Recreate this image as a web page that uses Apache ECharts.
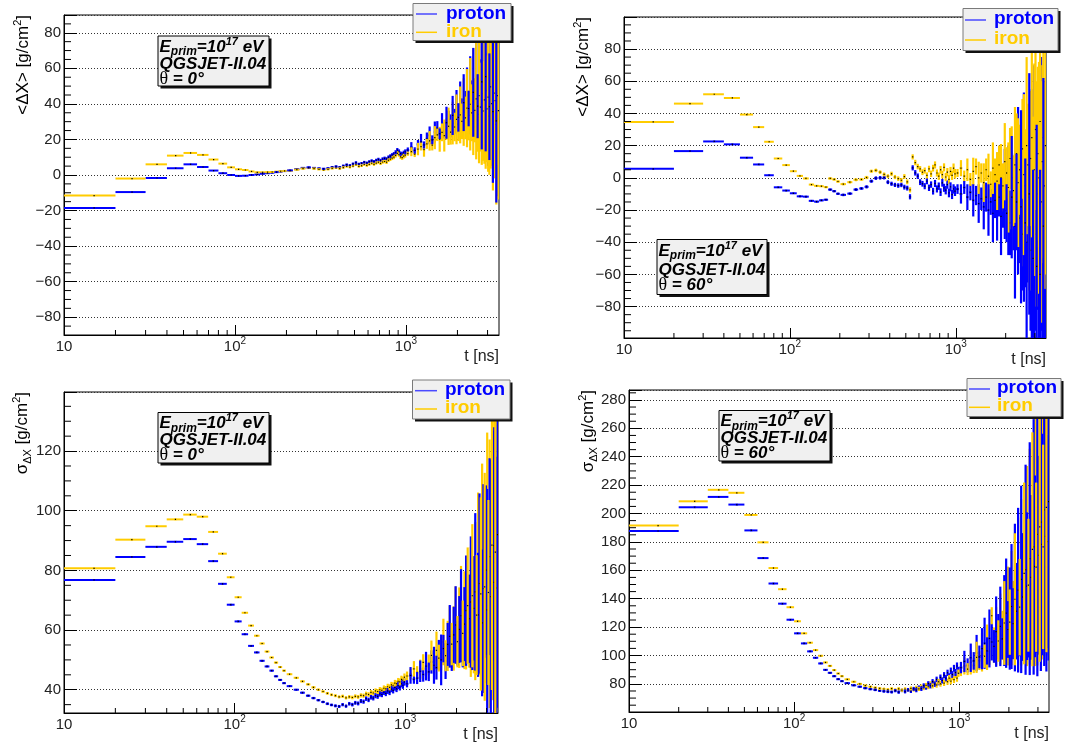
<!DOCTYPE html>
<html><head><meta charset="utf-8">
<script src="https://cdn.jsdelivr.net/npm/echarts@6/dist/echarts.min.js"></script>
<style>html,body{margin:0;padding:0;background:#fff}#c{width:1081px;height:747px}</style>
</head><body><div id="c"></div>
<script>
// ---------- sample times (bin centres, ns) ----------
const T_LOW = [15,25,35,45,55,65,75,85,95,105,115,125,135,145,155,165,175,185,195];
const T_MID = [210,230,250,270,290,310,330,350,370,390,410,430,450,470,490,510,530,550,570,590,610,630,650,670,690,710,730,750,770,790,810,830,850,870,890,910,930,950,970,990];
const T_HIGH = [1025,1075,1125,1175,1225,1275,1325,1375,1425,1475,1525,1575,1625,1675,1725,1775,1825,1875,1925,1975,2025,2075,2125,2175,2225,2275,2325,2375,2425,2475,2525,2575,2625,2675,2725,2775,2825,2875,2925,2975,3025,3075,3125,3175,3225,3275,3325,3375,3425,3475];

// ---------- tick values ----------
const X_MINOR = [20,30,40,50,60,70,80,90,200,300,400,500,600,700,800,900,2000,3000];
const Y_MINOR_TL = [-85,-75,-70,-65,-55,-50,-45,-35,-30,-25,-15,-10,-5,5,10,15,25,30,35,45,50,55,65,70,75,85];
const Y_MINOR_TR = [-95,-90,-85,-75,-70,-65,-55,-50,-45,-35,-30,-25,-15,-10,-5,5,10,15,25,30,35,45,50,55,65,70,75,85,90,95];
const Y_MINOR_BL = [35,45,50,55,65,70,75,85,90,95,105,110,115,125,130,135];
const Y_MINOR_BR = [65,70,75,85,90,95,105,110,115,125,130,135,145,150,155,165,170,175,185,190,195,205,210,215,225,230,235,245,250,255,265,270,275,285];

// ---------- <dX>, theta = 0 ----------
const TL_P_LOW = [-18.5,-9.6,-1.7,3.8,6.0,4.5,2.5,1.0,0.0,-0.5,-0.4,0.0,0.3,0.7,1.0,1.3,1.6,1.9,2.2];
const TL_P_MID = [2.6,3.3,4.0,4.3,4.0,3.7,3.5,3.8,4.4,4.8,4.4,5.2,5.8,5.4,6.3,7.0,6.2,6.6,7.2,6.8,7.5,8.0,7.6,8.3,8.8,8.2,9.0,9.4,9.0,10.0,10.6,11.2,11.8,12.8,14.0,13.2,12.0,11.6,12.4,13.0];
const TL_P_HIGH = [14.0,15.5,13.8,17.2,18.6,16.9,20.4,22.3,19.8,24.1,26.3,23.2,27.8,25.1,29.4,31.2,27.6,33.5,30.2,35.8,32.4,38.6,34.1,40.7,36.3,42.5,37.4,44.8,39.2,46.5,41.3,48.2,38.7,50.6,43.1,52.4,40.2,47.8,55.3,42.6,50.1,38.4,58.2,45.3,35.6,55.4,48.2,30.5,52.3,40.1];
const TL_P_HIGH_E = [1.5,3,1.8,2.5,4.5,2,3.5,5,2.5,6,4,3,7,4.5,9,5,6.5,11,7,12,8,14,9,16,11,18,10,22,14,25,12,28,18,32,22,38,20,35,42,26,45,30,48,36,40,50,32,46,38,52];
const TL_I_LOW = [-11.6,-2.0,6.0,10.9,12.4,11.3,8.7,6.4,4.3,3.2,2.8,2.0,1.5,1.5,1.6,1.7,1.9,2.1,2.3];
const TL_I_MID = [2.4,3.0,3.6,3.9,3.6,3.2,2.9,3.2,3.7,4.0,3.6,4.2,4.8,4.4,5.0,5.8,4.9,5.2,5.9,5.4,6.0,6.6,6.0,6.7,7.2,6.5,7.3,7.6,7.2,8.3,8.9,9.5,10.0,11.0,12.2,11.5,10.2,9.8,10.6,11.2];
const TL_I_HIGH = [12.0,13.1,11.7,14.6,16.0,14.3,17.5,19.2,16.8,21.0,22.6,20.1,24.0,22.2,25.8,27.4,24.1,29.2,27.0,31.3,28.6,33.8,30.2,35.4,32.1,37.6,33.5,39.8,35.0,41.2,36.4,42.8,34.1,44.6,38.2,45.7,36.0,42.3,47.5,37.2,43.8,33.1,49.6,40.2,32.3,46.1,41.8,28.4,44.7,36.2];
const TL_I_HIGH_E = [1.2,2.5,1.6,3.5,2.2,4,2.8,5.5,3,6.5,3.5,7,5,9,6,10.5,7,12,8,14,9.5,16,10,19,12,22,14,26,16,30,18,34,21,38,25,40,28,36,44,30,42,33,46,35,41,48,34,45,39,50];
const TL_E_LOWMID = [0.3,0.3,0.3,0.3,0.3,0.3,0.3,0.3,0.3,0.3,0.3,0.3,0.3,0.3,0.3,0.35,0.35,0.35,0.35,
  0.4,0.4,0.4,0.45,0.45,0.5,0.5,0.5,0.55,0.55,0.6,0.6,0.6,0.65,0.65,0.7,0.7,0.7,0.75,0.75,0.8,0.8,0.85,0.85,0.9,0.9,0.95,0.95,1.0,1.0,1.05,1.1,1.1,1.15,1.2,1.2,1.25,1.3,1.3,1.4];

// ---------- <dX>, theta = 60 ----------
const TR_P_LOW = [5.6,16.6,22.6,20.8,12.5,8.3,1.6,-5.9,-7.9,-9.6,-11.5,-11.7,-14.3,-14.8,-14.0,-13.6,-7.3,-8.3,-9.9];
const TR_P_MID = [-10.6,-9.8,-7.3,-6.6,-5.6,-2.1,-0.2,0.0,0.2,-2.7,-3.7,-4.4,-4.8,-4.4,-5.8,-6.4,-11.8,6.2,3.1,1.0,-2.7,-3.7,-5.2,-2.1,-6.2,-4.2,-8.3,-3.5,-6.9,-5.2,-8.9,-3.1,-6.2,-7.7,-4.2,-9.4,-5.6,-10.4,-6.9,-8.3];
const TR_P_HIGH = [-7,-10,-6,-12,-9,-14,-11,-16,-13,-18,-12,-20,-15,-22,-14,-19,-12,-24,-16,-10,-22,-14,-28,-12,-20,-30,-15,-8,-25,-18,-35,-12,-28,-40,-20,-10,-45,-25,-50,-15,-35,-55,-20,-40,-60,-10,-45,-30,-50,-20];
const TR_P_HIGH_E = [3,6,4,8,5,10,6,12,7,14,9,16,8,18,11,20,12,24,15,28,18,34,20,38,25,45,30,52,28,60,35,65,40,70,45,75,50,80,55,85,60,88,62,90,65,85,70,92,75,80];
const TR_I_LOW = [34.7,46.1,51.9,49.6,39.3,31.5,22.4,12.0,7.9,4.1,1.2,-0.4,-4.2,-5.0,-5.2,-5.8,-0.4,-1.0,-2.3];
const TR_I_MID = [-3.9,-2.7,-1.2,-1.0,0.2,4.1,4.6,3.5,2.1,1.0,2.5,0.5,-0.5,-1.5,0.8,-2.5,-7.5,13.0,9.5,7.0,5.5,3.5,4.5,1.5,5.5,2.5,6.0,8.0,3.0,1.0,5.0,2.0,6.5,0.5,3.5,-1.0,4.0,1.5,6.0,2.5];
const TR_I_HIGH = [3,6,1,5,-1,4,7,0,3,-3,5,1,-4,6,2,-2,8,0,-5,10,3,-6,12,0,-8,8,15,-3,5,-10,18,2,-5,20,8,-12,12,25,-8,5,30,-10,15,0,35,-15,10,25,-5,20];
const TR_I_HIGH_E = [2.5,5,3.5,7,4,8.5,5,10,6,12,7,14,8,16,10,18,12,21,14,24,16,28,19,32,22,36,25,40,28,45,31,50,35,55,38,58,42,62,46,66,50,70,54,72,58,75,60,78,64,80];
const TR_E_LOWMID = [0.5,0.5,0.5,0.5,0.5,0.5,0.5,0.5,0.5,0.5,0.6,0.6,0.6,0.6,0.6,0.6,0.7,0.7,0.7,
  0.8,0.8,0.9,0.9,1.0,1.0,1.1,1.1,1.2,1.2,1.3,1.3,1.4,1.4,1.5,1.5,1.6,1.6,1.7,1.7,1.8,1.8,1.9,1.9,2.0,2.0,2.1,2.2,2.2,2.3,2.4,2.4,2.5,2.6,2.6,2.7,2.8,2.8,2.9,3.0];

// ---------- sigma dX, theta = 0 ----------
const BL_P_LOW = [76.8,84.5,87.9,89.6,90.5,88.8,83.1,75.5,68.5,62.9,58.6,54.7,52.5,49.7,47.8,46.4,44.5,43.3,42.2];
const BL_P_MID = [41.2,40.0,39.0,38.0,37.2,36.5,35.9,35.3,34.9,34.6,34.4,35.0,34.5,35.3,35.0,35.6,35.4,36.2,36.0,37.0,36.6,37.5,37.2,38.0,37.8,38.6,38.4,39.2,38.8,39.6,39.2,40.2,39.8,40.8,40.3,41.4,40.9,42.0,41.5,42.6];
const BL_P_HIGH = [42.0,44.8,43.5,43.9,46.2,45.1,47.9,46.0,49.3,48.2,47.4,51.6,50.0,53.8,49.6,55.2,57.9,53.1,58.4,61.7,55.6,60.2,64.8,57.3,62.0,66.5,59.1,63.8,69.4,60.2,67.3,72.8,63.5,65.1,75.6,68.2,62.4,73.9,70.5,80.1,66.8,77.4,84.6,71.2,69.5,88.3,76.0,82.7,74.1,92.0];
const BL_P_HIGH_E = [1.2,2.8,1.5,2.0,3.6,2.4,4.8,3.1,3.9,6.2,4.0,5.1,8.5,4.6,6.0,7.2,10.5,6.8,9.4,13.0,7.5,11.2,15.6,9.8,12.4,18.5,10.2,14.8,22.0,13.6,17.5,26.4,15.0,20.8,30.2,16.4,24.6,35.0,19.8,28.4,40.5,22.2,33.0,46.0,26.8,38.5,52.0,30.4,44.0,58.0];
const BL_I_LOW = [80.7,90.3,94.8,97.1,98.7,98.0,92.9,85.6,77.7,71.0,65.8,61.5,58.1,55.5,52.8,50.8,49.1,47.6,46.4];
const BL_I_MID = [45.2,44.0,42.8,41.8,40.8,40.0,39.4,38.8,38.3,38.0,37.6,37.8,37.3,37.6,37.4,37.8,37.6,38.1,38.0,38.6,38.4,39.1,38.9,39.6,39.4,40.0,39.8,40.5,40.3,41.0,40.8,41.6,41.4,42.2,42.0,42.8,42.6,43.5,43.2,44.2];
const BL_I_HIGH = [44.6,45.3,47.0,45.8,46.9,49.2,47.7,48.4,51.5,49.0,53.2,50.6,52.1,56.0,51.4,54.7,58.5,55.3,57.2,62.4,56.1,60.8,65.7,58.9,63.3,59.4,68.2,61.6,66.1,71.5,62.8,69.7,65.0,76.3,67.4,72.1,79.8,66.2,74.5,70.8,83.7,72.6,78.9,75.2,88.5,73.0,81.6,86.1,76.8,90.2];
const BL_I_HIGH_E = [1.5,1.8,2.6,2.1,3.2,2.7,4.1,3.4,5.0,3.8,6.3,4.5,5.6,7.8,5.2,8.4,9.6,7.1,10.8,12.2,8.6,13.5,15.8,11.0,16.4,12.6,19.5,14.2,21.8,24.0,17.3,26.5,20.1,29.8,22.6,32.4,36.0,25.4,38.2,28.6,42.5,31.0,45.0,34.2,48.6,36.5,50.2,54.0,40.4,56.0];
const BL_E_LOWMID = [0.3,0.3,0.3,0.3,0.3,0.3,0.3,0.3,0.3,0.3,0.3,0.3,0.3,0.3,0.3,0.3,0.3,0.3,0.3,
  0.3,0.3,0.35,0.35,0.4,0.4,0.4,0.45,0.45,0.5,0.5,0.55,0.55,0.6,0.6,0.65,0.65,0.7,0.7,0.75,0.75,0.8,0.8,0.85,0.85,0.9,0.9,0.95,0.95,1.0,1.0,1.05,1.05,1.1,1.1,1.15,1.15,1.2,1.2,1.25];

// ---------- sigma dX, theta = 60 ----------
const BR_P_LOW = [187.7,204.4,211.7,206.3,188.1,168.6,150.7,136.5,125.2,115.6,108.5,102.9,98.4,94.4,89.9,87.8,85.4,83.3,81.9];
const BR_P_MID = [80.5,79.0,78.0,77.0,76.3,75.8,75.2,74.8,74.5,74.3,75.2,74.2,75.4,74.6,75.8,75.0,76.5,75.6,77.4,76.6,78.8,77.6,80.2,78.6,81.6,79.8,83.2,81.0,84.6,82.4,86.2,84.0,87.8,85.2,89.2,86.6,91.0,88.0,92.6,89.4];
const BR_P_HIGH = [91.5,95.8,93.0,98.4,96.2,101.7,99.0,104.8,108.6,103.2,112.0,109.5,106.4,116.8,113.2,120.5,111.7,124.6,129.8,118.3,126.0,134.5,122.4,140.8,131.2,146.0,127.5,153.6,141.2,136.0,160.4,148.8,142.6,168.2,155.0,150.3,176.5,162.8,158.0,185.3,170.6,164.4,194.0,178.2,172.5,202.6,184.0,196.8,180.2,208.4];
const BR_P_HIGH_E = [4,7.5,5,10,6.2,12.8,8,14.5,18,9.6,20.4,13,11.5,24.8,16,28,14.5,32,38.5,20,36,44,25,52,34,58,28,66,45,38,74,52,44,82,58,50,90,64,56,100,70,62,105,78,68,110,82,108,75,112];
const BR_I_LOW = [191.5,208.6,216.7,214.6,199.0,179.7,161.6,146.7,134.0,124.1,115.6,109.0,103.8,99.8,95.1,92.7,89.7,87.3,85.4];
const BR_I_MID = [83.2,81.5,80.0,78.8,78.0,77.3,76.8,76.4,76.0,76.6,75.8,76.5,75.6,76.3,75.8,76.8,76.0,77.2,76.5,78.0,77.2,79.0,78.0,80.0,78.6,80.5,79.2,81.5,80.0,82.5,80.6,83.2,81.5,84.0,82.0,85.0,83.0,86.5,84.0,87.5];
const BR_I_HIGH = [89.0,92.6,90.4,95.1,93.0,98.7,96.4,102.2,99.5,105.8,103.0,128.0,107.4,113.5,110.2,118.6,114.3,122.9,119.2,127.8,123.5,133.4,126.1,139.6,131.8,145.2,134.0,151.5,139.4,157.8,144.2,163.0,149.5,169.6,153.1,174.8,158.6,180.5,162.2,185.0,167.4,190.6,171.3,195.2,176.5,199.8,181.0,204.3,185.6,196.0];
const BR_I_HIGH_E = [3.5,6,4.2,8.5,5.4,11,6.6,13.5,8.2,16,9.5,6,12.4,20.5,14.6,25,17.2,29.5,20,34.8,23,40.2,26.4,46.5,30.2,52,34,58.6,38.4,64,42,70.5,46.8,76,50.5,82.4,55,88,59.6,92,64,95,68.2,98,72,100,76,102,80,96];
const BR_E_LOWMID = [0.6,0.6,0.6,0.6,0.6,0.6,0.6,0.6,0.6,0.6,0.6,0.6,0.6,0.6,0.6,0.6,0.6,0.6,0.6,
  0.6,0.7,0.7,0.8,0.8,0.9,0.9,1.0,1.0,1.1,1.1,1.2,1.2,1.3,1.3,1.4,1.4,1.5,1.5,1.6,1.6,1.7,1.7,1.8,1.8,1.9,1.9,2.0,2.0,2.1,2.1,2.2,2.2,2.3,2.3,2.4,2.4,2.5,2.5,2.6];

const BLUE = '#0000ff', GOLD = '#ffcc00';
const FONT = 'Liberation Sans';

// half widths (ns) of the drawn dash in each sampling segment
const HALF = [5, 8, 20];
function buildPoints(low, mid, high, errLowMid, errHigh) {
  const pts = [];
  T_LOW.forEach((t, i) => pts.push([t, low[i], errLowMid[i], HALF[0]]));
  T_MID.forEach((t, i) => pts.push([t, mid[i], errLowMid[T_LOW.length + i], HALF[1]]));
  T_HIGH.forEach((t, i) => pts.push([t, high[i], errHigh[i], HALF[2]]));
  return pts;
}

// layering: the "front" species sits above, but every 3rd bin of the back species is lifted
function binRenderer(color, front) {
  return function (params, api) {
    const t = api.value(0), y = api.value(1), e = api.value(2), h = api.value(3);
    const a = api.coord([t - h, y]), b = api.coord([t + h, y]);
    const top = api.coord([t, y + e]), bot = api.coord([t, y - e]);
    const c = api.coord([t, y]);
    const z2 = front ? 2 : (params.dataIndex % 3 === 1 ? 3 : 1);
    return { type: 'group', children: [
      { type: 'line', z2: z2, shape: { x1: a[0], y1: a[1], x2: b[0], y2: b[1] }, style: { stroke: color, lineWidth: 2 } },
      { type: 'line', z2: z2, shape: { x1: c[0], y1: top[1], x2: c[0], y2: bot[1] }, style: { stroke: color, lineWidth: 2.2 } },
      { type: 'rect', z2: z2 + 0.5, shape: { x: c[0] - 0.6, y: c[1] - 0.6, width: 1.2, height: 1.2 }, style: { fill: '#000' } }
    ]};
  };
}

function minorRenderer(params, api) {
  const cs = params.coordSys;
  const kind = api.value(2);
  if (kind === 0) {
    const px = api.coord([api.value(0), api.value(1)])[0];
    const yb = cs.y + cs.height;
    return { type: 'line', shape: { x1: px, y1: yb, x2: px, y2: yb - 5 }, style: { stroke: '#000', lineWidth: 1 } };
  }
  const py = api.coord([api.value(0), api.value(1)])[1];
  return { type: 'line', shape: { x1: cs.x, y1: py, x2: cs.x + 7, y2: py }, style: { stroke: '#000', lineWidth: 1 } };
}

const panels = [
  { grid: { left: 64, top: 15, width: 435, height: 320 }, ymin: -90, ymax: 90, split: 9, yMinor: Y_MINOR_TL, protonFront: false,
    p: buildPoints(TL_P_LOW, TL_P_MID, TL_P_HIGH, TL_E_LOWMID, TL_P_HIGH_E),
    i: buildPoints(TL_I_LOW, TL_I_MID, TL_I_HIGH, TL_E_LOWMID, TL_I_HIGH_E) },
  { grid: { left: 624, top: 17, width: 422, height: 321 }, ymin: -99.5, ymax: 99.9, split: 10, yMinor: Y_MINOR_TR, protonFront: false,
    p: buildPoints(TR_P_LOW, TR_P_MID, TR_P_HIGH, TR_E_LOWMID, TR_P_HIGH_E),
    i: buildPoints(TR_I_LOW, TR_I_MID, TR_I_HIGH, TR_E_LOWMID, TR_I_HIGH_E) },
  { grid: { left: 64, top: 392, width: 434, height: 321 }, ymin: 32.2, ymax: 139.8, split: 5, yMinor: Y_MINOR_BL, protonFront: true,
    p: buildPoints(BL_P_LOW, BL_P_MID, BL_P_HIGH, BL_E_LOWMID, BL_P_HIGH_E),
    i: buildPoints(BL_I_LOW, BL_I_MID, BL_I_HIGH, BL_E_LOWMID, BL_I_HIGH_E) },
  { grid: { left: 629, top: 390, width: 420, height: 322 }, ymin: 60.2, ymax: 287, split: 11, yMinor: Y_MINOR_BR, protonFront: true,
    p: buildPoints(BR_P_LOW, BR_P_MID, BR_P_HIGH, BR_E_LOWMID, BR_P_HIGH_E),
    i: buildPoints(BR_I_LOW, BR_I_MID, BR_I_HIGH, BR_E_LOWMID, BR_I_HIGH_E) }
];

function xFmt(v) {
  const p = Math.log10(v), r = Math.round(p);
  if (Math.abs(p - r) > 1e-6) return '';
  return r === 1 ? '10' : '10{s|' + r + '}';
}
function yFmt(v) {
  const r = Math.round(v);
  if (Math.abs(v - r) > 1e-6 || r % 20 !== 0) return '';
  return r < 0 ? '\u2212' + (-r) : String(r);
}

const grids = [], xAxes = [], yAxes = [], series = [];
panels.forEach((pn, gi) => {
  grids.push(Object.assign({ show: true, borderColor: '#000', borderWidth: 1, backgroundColor: '#fff', containLabel: false }, pn.grid));
  xAxes.push({ type: 'log', logBase: 10, gridIndex: gi, min: 10, max: 3500, splitNumber: 3,
    axisLine: { show: true, onZero: false, lineStyle: { color: '#000', width: 1 } },
    axisTick: { show: true, inside: true, length: 10, lineStyle: { color: '#000' } },
    splitLine: { show: false }, minorTick: { show: false },
    axisLabel: { formatter: xFmt, margin: 1, color: '#222', fontSize: 15, fontFamily: FONT, lineHeight: 22,
      showMaxLabel: false, rich: { s: { fontSize: 10, lineHeight: 10, verticalAlign: 'top', fontFamily: FONT, color: '#222' } } } });
  yAxes.push({ type: 'value', gridIndex: gi, min: pn.ymin, max: pn.ymax, splitNumber: pn.split,
    axisLine: { show: true, onZero: false, lineStyle: { color: '#000', width: 1 } },
    axisTick: { show: true, inside: true, length: 13, lineStyle: { color: '#000' } },
    splitLine: { show: true, lineStyle: { color: '#333', width: 1, type: [1, 2] } },
    axisLabel: { formatter: yFmt, margin: 3, color: '#222', fontSize: 15, fontFamily: FONT } });
  const minorData = X_MINOR.map(v => [v, pn.ymin, 0]).concat(pn.yMinor.map(v => [10, v, 1]));
  series.push({ type: 'custom', xAxisIndex: gi, yAxisIndex: gi, renderItem: minorRenderer, data: minorData,
    encode: { x: 0, y: 1 }, silent: true, z: 5 });
  series.push({ type: 'custom', name: 'proton', xAxisIndex: gi, yAxisIndex: gi, renderItem: binRenderer(BLUE, pn.protonFront),
    data: pn.p, encode: { x: 0, y: 1 }, clip: true, silent: true, z: 3 });
  series.push({ type: 'custom', name: 'iron', xAxisIndex: gi, yAxisIndex: gi, renderItem: binRenderer(GOLD, !pn.protonFront),
    data: pn.i, encode: { x: 0, y: 1 }, clip: true, silent: true, z: 3 });
});

// ---------- annotations ----------
const G = [];
const Z = 100;
function legendBox(x, y, w, h, lx1, lx2, ly1, ly2, tx, ty1, ty2) {
  G.push({ type: 'rect', z: Z, shape: { x: x + 2.5, y: y + 2.5, width: w, height: h }, style: { fill: '#111' } });
  G.push({ type: 'rect', z: Z, shape: { x: x, y: y, width: w, height: h }, style: { fill: '#f0f0f0', stroke: '#7a7a7a', lineWidth: 1 } });
  G.push({ type: 'line', z: Z, shape: { x1: lx1, y1: ly1, x2: lx2, y2: ly1 }, style: { stroke: '#4a4aff', lineWidth: 1.5 } });
  G.push({ type: 'line', z: Z, shape: { x1: lx1, y1: ly2, x2: lx2, y2: ly2 }, style: { stroke: GOLD, lineWidth: 1.5 } });
  G.push({ type: 'text', z: Z, x: tx, y: ty1, style: { text: 'proton', font: 'bold 19px "Liberation Sans"', fill: BLUE, align: 'left', verticalAlign: 'middle' } });
  G.push({ type: 'text', z: Z, x: tx, y: ty2, style: { text: 'iron', font: 'bold 19px "Liberation Sans"', fill: GOLD, align: 'left', verticalAlign: 'middle' } });
}
const infoRich = {
  b: { fontFamily: FONT, fontSize: 17, fontStyle: 'italic', fontWeight: 'bold', lineHeight: 22, color: '#000' },
  sub: { fontFamily: FONT, fontSize: 12, fontStyle: 'italic', fontWeight: 'bold', lineHeight: 12, verticalAlign: 'bottom', color: '#000' },
  sup: { fontFamily: FONT, fontSize: 11, fontStyle: 'italic', fontWeight: 'bold', lineHeight: 12, verticalAlign: 'top', color: '#000' },
  th: { fontFamily: 'Liberation Serif', fontSize: 18, lineHeight: 22, color: '#000' }
};
function infoBox(x, y, w, h, theta, l1, l2, l3) {
  G.push({ type: 'rect', z: Z, shape: { x: x + 2.5, y: y + 2.5, width: w, height: h }, style: { fill: '#111' } });
  G.push({ type: 'rect', z: Z, shape: { x: x, y: y, width: w, height: h }, style: { fill: '#f0f0f0', stroke: '#000', lineWidth: 1 } });
  G.push({ type: 'text', z: Z, x: x + 1.5, y: l1, style: { text: '{b|E}{sub|prim}{b|=10}{sup|17}{b| eV}', rich: infoRich, align: 'left', verticalAlign: 'middle' } });
  G.push({ type: 'text', z: Z, x: x + 1.5, y: l2, style: { text: '{b|QGSJET-II.04}', rich: infoRich, align: 'left', verticalAlign: 'middle' } });
  G.push({ type: 'text', z: Z, x: x + 1.5, y: l3, style: { text: '{th|\u03b8}{b| = ' + theta + '\u00b0}', rich: infoRich, align: 'left', verticalAlign: 'middle' } });
}
const titleRich = {
  n: { fontFamily: FONT, fontSize: 17, lineHeight: 22, color: '#222' },
  sup: { fontFamily: FONT, fontSize: 11, lineHeight: 11, verticalAlign: 'top', color: '#222' },
  sub: { fontFamily: FONT, fontSize: 11, lineHeight: 11, verticalAlign: 'bottom', color: '#222' }
};
function yTitle(x, y, txt) {
  G.push({ type: 'text', z: Z, x: x, y: y, rotation: Math.PI / 2, style: { text: txt, rich: titleRich, align: 'right', verticalAlign: 'middle' } });
}
function xTitle(x, y) {
  G.push({ type: 'text', z: Z, x: x, y: y, style: { text: 't [ns]', font: '16px "Liberation Sans"', fill: '#222', align: 'right', verticalAlign: 'middle' } });
}

legendBox(413, 3.5, 98, 37, 416, 437, 14, 32.3, 446, 13.3, 31.5);
legendBox(963, 8.5, 95, 42, 965, 986, 20, 40, 994, 19, 39);
legendBox(412.5, 380, 97.5, 39, 415, 437, 390.7, 409, 445, 389.5, 408);
legendBox(967, 378.5, 94, 38, 969, 990, 389, 407.3, 997, 388, 406);

infoBox(158, 36, 111, 50, '0', 47, 64, 79);
infoBox(657, 239.5, 110, 55, '60', 251, 270, 285);
infoBox(158, 412.5, 111, 50.5, '0', 423.5, 440.5, 455.5);
infoBox(719, 410.5, 111, 50.5, '60', 421.5, 438.5, 453.5);

yTitle(23, 15, '{n|<\u0394X> [g/cm}{sup|2}{n|]}');
yTitle(583, 17, '{n|<\u0394X> [g/cm}{sup|2}{n|]}');
yTitle(22, 392, '{n|\u03c3}{sub|\u0394X}{n| [g/cm}{sup|2}{n|]}');
yTitle(588, 390, '{n|\u03c3}{sub|\u0394X}{n| [g/cm}{sup|2}{n|]}');
xTitle(499, 357); xTitle(1046, 360); xTitle(498, 735); xTitle(1049, 734);

const chart = echarts.init(document.getElementById('c'), null, { renderer: 'canvas', width: 1081, height: 747 });
chart.setOption({
  animation: false,
  backgroundColor: '#fff',
  grid: grids, xAxis: xAxes, yAxis: yAxes, series: series,
  graphic: { elements: G }
});
</script></body></html>
